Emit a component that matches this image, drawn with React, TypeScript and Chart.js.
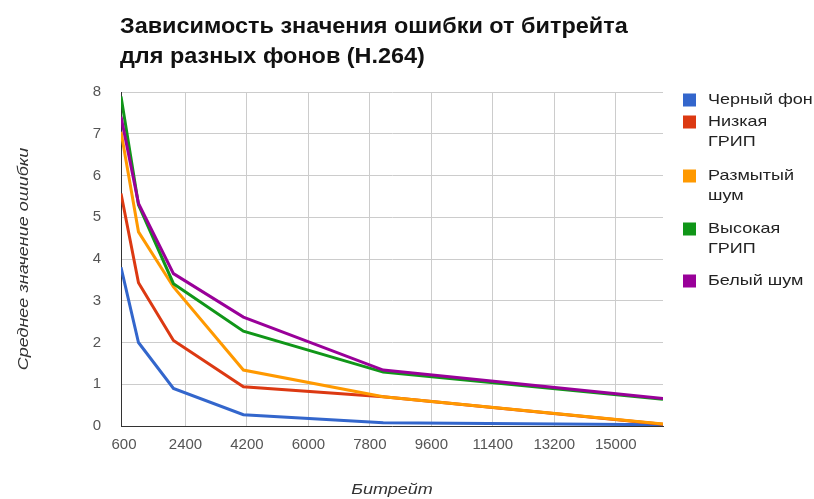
import React, { useEffect, useRef } from "react";
import { Chart, registerables } from "chart.js";

Chart.register(...registerables);

const bitrates = [512, 1024, 2048, 4096, 8192, 16384];
const blackBg = [3.8, 2.0, 0.9, 0.27, 0.08, 0.03];
const lowDof = [5.57, 3.43, 2.05, 0.94, 0.7, 0.04];
const blurNoise = [7.05, 4.65, 3.33, 1.34, 0.7, 0.05];
const highDof = [7.89, 5.3, 3.41, 2.27, 1.29, 0.64];
const whiteNoise = [7.41, 5.33, 3.65, 2.61, 1.34, 0.66];

const seriesNames = ["Черный фон", "Низкая ГРИП", "Размытый шум", "Высокая ГРИП", "Белый шум"];
const legendLines = [["Черный фон"], ["Низкая", "ГРИП"], ["Размытый", "шум"], ["Высокая", "ГРИП"], ["Белый шум"]];
const colors = ["#3366cc", "#dc3912", "#ff9900", "#109618", "#990099"];
const xTicks = [600, 2400, 4200, 6000, 7800, 9600, 11400, 13200, 15000];
const yTicks = [0, 1, 2, 3, 4, 5, 6, 7, 8];
const titleLines = ["Зависимость значения ошибки от битрейта", "для разных фонов (H.264)"];
const xTitle = "Битрейт";
const yTitle = "Среднее значение ошибки";

const FONT = "'Liberation Sans', Arial, sans-serif";

function stretchedText(ctx: any, text: string, x: number, y: number, sx: number) {
  ctx.save();
  ctx.translate(x, y);
  ctx.scale(sx, 1);
  ctx.fillText(text, 0, 0);
  ctx.restore();
}

const decorPlugin = {
  id: "decor",
  afterDraw(chart: any) {
    const ctx = chart.ctx;
    const area = chart.chartArea;
    ctx.save();
    // title
    ctx.fillStyle = "#111";
    ctx.font = `bold 22px ${FONT}`;
    ctx.textAlign = "left";
    ctx.textBaseline = "alphabetic";
    stretchedText(ctx, titleLines[0], 120, 33, 1.065);
    stretchedText(ctx, titleLines[1], 120, 63, 1.065);
    // axis titles
    ctx.fillStyle = "#333";
    ctx.font = `italic 15px ${FONT}`;
    ctx.textAlign = "center";
    ctx.textBaseline = "middle";
    stretchedText(ctx, xTitle, (area.left + area.right) / 2, 490, 1.2);
    ctx.save();
    ctx.translate(24, (area.top + area.bottom) / 2);
    ctx.rotate(-Math.PI / 2);
    stretchedText(ctx, yTitle, 0, 0, 1.2);
    ctx.restore();
    // legend
    const rows = [[100], [122, 142], [176, 196], [229, 249], [281]];
    ctx.font = `15px ${FONT}`;
    ctx.textAlign = "left";
    ctx.textBaseline = "middle";
    legendLines.forEach((lines, i) => {
      ctx.fillStyle = colors[i];
      ctx.fillRect(683, rows[i][0] - 6.5, 13, 13);
      ctx.fillStyle = "#222";
      lines.forEach((t, j) => stretchedText(ctx, t, 708, rows[i][j], 1.2));
    });
    ctx.restore();
  },
};

export default function App() {
  const ref = useRef<HTMLCanvasElement>(null);
  useEffect(() => {
    if (!ref.current) return;
    const datasets = [blackBg, lowDof, blurNoise, highDof, whiteNoise].map((vals, i) => ({
      label: seriesNames[i],
      data: vals.map((v, k) => ({ x: bitrates[k], y: v })),
      borderColor: colors[i],
      backgroundColor: colors[i],
      borderWidth: 3,
      pointRadius: 0,
      tension: 0,
      order: 4 - i,
    }));
    const chart = new Chart(ref.current, {
      type: "line",
      data: { datasets },
      options: {
        animation: false,
        responsive: false,
        layout: { padding: { top: 92, right: 151, bottom: 0, left: 0 } },
        plugins: { legend: { display: false }, title: { display: false }, tooltip: { enabled: false } },
        scales: {
          x: {
            type: "linear",
            min: bitrates[0],
            max: bitrates[bitrates.length - 1],
            afterBuildTicks: (s: any) => {
              s.ticks = xTicks.map((v) => ({ value: v }));
            },
            afterFit: (s: any) => {
              s.height = 73;
            },
            grid: {
              color: (c: any) => (c.tick && c.tick.value === 600 ? "rgba(0,0,0,0)" : "#cccccc"),
              drawTicks: false,
            },
            border: { color: "#333333", width: 1 },
            ticks: {
              color: "#555",
              font: { family: FONT, size: 15 },
              padding: 10,
              maxRotation: 0,
              autoSkip: false,
              callback: (v: any) => String(v),
            },
          },
          y: {
            min: 0,
            max: 8,
            afterBuildTicks: (s: any) => {
              s.ticks = yTicks.map((v) => ({ value: v }));
            },
            afterFit: (s: any) => {
              s.width = 121;
            },
            grid: { color: "#cccccc", drawTicks: false },
            border: { color: "#333333", width: 1 },
            ticks: { color: "#555", font: { family: FONT, size: 15 }, padding: 20, callback: (v: any) => String(v) },
          },
        },
      },
      plugins: [decorPlugin],
    });
    return () => chart.destroy();
  }, []);
  return (
    <div style={{ position: "absolute", left: 0, top: 0, width: 814, height: 499, background: "#fff" }}>
      <canvas ref={ref} width={814} height={499} style={{ display: "block", width: 814, height: 499 }} />
    </div>
  );
}
